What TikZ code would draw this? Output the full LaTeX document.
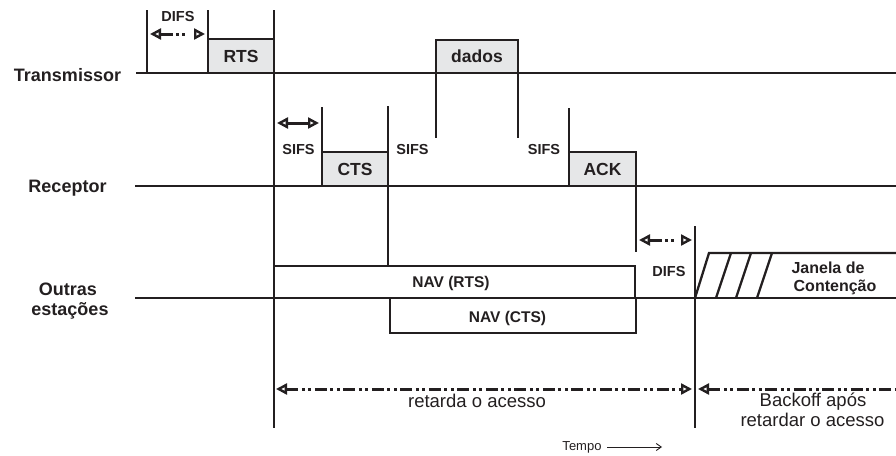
\documentclass[tikz,border=0pt]{standalone}
\usepackage{fontspec}
\setmainfont{Liberation Sans}
\usetikzlibrary{arrows.meta}
\definecolor{ink}{RGB}{35,31,32}
\definecolor{boxgray}{RGB}{230,231,232}
\newcommand\fsz[2]{\fontsize{#1}{#2}\selectfont}
\tikzset{
  tl/.style={draw=ink, line width=2.7pt},
  pkt/.style={draw=ink, line width=2.7pt, fill=boxgray, inner sep=0pt,
    text=ink, font=\bfseries\fsz{17.5}{20}},
  navbox/.style={draw=ink, line width=2.7pt, fill=white, inner sep=0pt},
  txt/.style={inner sep=0pt, anchor=base, text=ink},
  rowlbl/.style={txt, font=\bfseries\fsz{18}{20}},
  gaplbl/.style={txt, font=\bfseries\fsz{14.5}{16}},
  navlbl/.style={txt, font=\bfseries\fsz{15.5}{18}},
  cwlbl/.style={txt, font=\bfseries\fsz{16}{18}},
  note/.style={txt, font=\fsz{18.5}{20}},
  otip/.tip={Triangle[open, length=11pt, width=11pt, line width'=2.4pt, fill=white]},
  gaparrow/.style={draw=ink, line width=3pt, otip-otip},
  difsarrow/.style={gaparrow,
    dash pattern=on 13pt off 3pt on 3pt off 3pt on 3pt off 20pt},
  spanline/.style={draw=ink, line width=3pt,
    dash pattern=on 12pt off 3.5pt on 3pt off 3.5pt on 3pt off 3.5pt},
}
\begin{document}
\begin{tikzpicture}[x=1pt, y=-1pt]
\useasboundingbox (0,0) rectangle (896,455);

% station time lines
\draw[tl] (136,73) -- (896,73);
\draw[tl] (135,186) -- (896,186);
\draw[tl] (135,298) -- (896,298);

% station names
\node[rowlbl] (tx) at (67.5,81) {Transmissor};
\node[rowlbl] (rx) at (67.5,192) {Receptor};
\node[rowlbl] (ot1) at (68,295) {Outras};
\node[rowlbl] (ot2) at (70,315) {estações};

% frame boundaries
\draw[tl] (147,10) -- (147,73);
\draw[tl] (208,10) -- (208,73);
\draw[tl] (274,10) -- (274,428);
\draw[tl] (322,107) -- (322,186);
\draw[tl] (388,106) -- (388,266);
\draw[tl] (436,40) -- (436,138);
\draw[tl] (518,40) -- (518,138);
\draw[tl] (569,108) -- (569,186);
\draw[tl] (636,152) -- (636,252);
\draw[tl] (695,226) -- (695,428);

% frames
\node[pkt, minimum width=66pt, minimum height=34pt] (rts) at (241,56) {RTS};
\node[pkt, minimum width=82pt, minimum height=33pt] (dados) at (477,56.5) {dados};
\node[pkt, minimum width=66pt, minimum height=34pt] (cts) at (355,169) {CTS};
\node[pkt, minimum width=67pt, minimum height=34pt] (ack) at (602.5,169) {ACK};

% network allocation vectors
\node[navbox, minimum width=361pt, minimum height=32pt] (navrts) at (454.5,282) {};
\node[navbox, minimum width=246pt, minimum height=35pt] (navcts) at (513,315.5) {};
\node[navlbl] (navrtsl) at (451,287) {NAV (RTS)};
\node[navlbl] (navctsl) at (507.5,322) {NAV (CTS)};

% interframe spaces
\coordinate (d1a) at (150,34);  \coordinate (d1b) at (205,34);
\draw[difsarrow] (d1a) -- (d1b);
\node[gaplbl] (difs1) at (178,21) {DIFS};

\coordinate (s1a) at (277,123); \coordinate (s1b) at (319,123);
\draw[gaparrow] (s1a) -- (s1b);
\node[gaplbl] (sifs1) at (298.5,154) {SIFS};
\node[gaplbl] (sifs2) at (412.5,154) {SIFS};
\node[gaplbl] (sifs3) at (544,154) {SIFS};

\coordinate (d2a) at (639,240); \coordinate (d2b) at (692,240);
\draw[difsarrow] (d2a) -- (d2b);
\node[gaplbl] (difs2) at (669,276) {DIFS};

% contention window
\draw[draw=ink, line width=2.3pt] (695,298) -- (709,253) -- (896,253);
\draw[draw=ink, line width=2.3pt] (716,298) -- (731,253);
\draw[draw=ink, line width=2.3pt] (736,298) -- (751,253);
\draw[draw=ink, line width=2.3pt] (757,298) -- (772,253);
\node[cwlbl] (cw1) at (828,273) {Janela de};
\node[cwlbl] (cw2) at (835,291) {Contenção};

% deferral spans
\coordinate (r1a) at (276,389); \coordinate (r1b) at (692,389);
\draw[spanline, otip-otip] (r1a) -- (r1b);
\node[note] (defer) at (477,407) {retarda o acesso};
\coordinate (r2a) at (698,389); \coordinate (r2b) at (896,389);
\draw[spanline, otip-] (r2a) -- (r2b);
\node[note] (bo1) at (813,406) {Backoff após};
\node[note] (bo2) at (812.5,426) {retardar o acesso};

% time axis hint
\node[txt, font=\fsz{13}{15}] (tempo) at (582,450) {Tempo};
\coordinate (ta) at (607,447); \coordinate (tb) at (662,447);
\draw[draw=ink, line width=0.9pt, -{Straight Barb[length=5pt, width=7pt]}] (ta) -- (tb);
\end{tikzpicture}
\end{document}
